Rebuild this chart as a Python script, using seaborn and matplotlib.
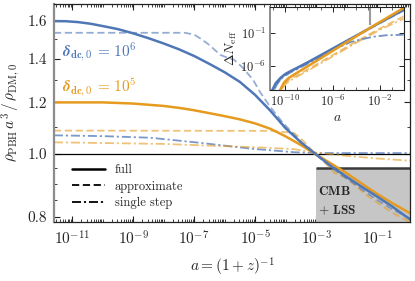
import numpy as np
import pandas as pd
import matplotlib
matplotlib.use("Agg")
import matplotlib.pyplot as plt
import matplotlib.ticker as mt
from matplotlib.lines import Line2D
import seaborn as sns

# ---------------- data ----------------
# main panel: log10(a) and rho_PBH a^3 / rho_DM,0
la_full6 = [-11.6, -11.2, -10.8, -10.4, -10.0, -9.5, -9.0, -8.5, -8.0, -7.5, -7.0, -6.5, -6.0, -5.5, -5.0, -4.5, -4.0, -3.5, -3.0, -2.5, -2.0, -1.5, -1.0, -0.5, 0.1]
v_full6 = [1.600, 1.599, 1.594, 1.585, 1.572, 1.555, 1.532, 1.506, 1.478, 1.448, 1.414, 1.375, 1.335, 1.290, 1.232, 1.165, 1.095, 1.042, 0.998, 0.957, 0.922, 0.890, 0.860, 0.830, 0.792]

la_full5 = [-11.6, -10.0, -9.0, -8.0, -7.5, -7.0, -6.5, -6.0, -5.5, -5.0, -4.5, -4.0, -3.5, -3.0, -2.5, -2.0, -1.5, -1.0, -0.5, 0.1]
v_full5 = [1.200, 1.200, 1.195, 1.185, 1.177, 1.167, 1.155, 1.143, 1.130, 1.114, 1.093, 1.064, 1.032, 0.998, 0.966, 0.934, 0.900, 0.868, 0.840, 0.810]

la_apx6 = [-11.6, -7.3, -7.0, -6.8, -6.5, -6.15, -5.9, -5.7, -5.4, -5.07, -4.84, -4.5, -4.1, -3.7, -3.3, -3.0, -2.6, -2.2, -1.8, -1.4, -1.0, -0.5, 0.1]
v_apx6 = [1.535, 1.535, 1.525, 1.505, 1.470, 1.420, 1.405, 1.396, 1.356, 1.300, 1.245, 1.180, 1.118, 1.068, 1.022, 0.998, 0.962, 0.930, 0.903, 0.875, 0.850, 0.822, 0.795]

la_apx5 = [-11.6, -4.5, -4.0, -3.7, -3.4, -3.2, -3.0, -2.6, -2.4, -2.0, -1.6, -1.4, -1.0, -0.5, 0.1]
v_apx5 = [1.086, 1.085, 1.080, 1.075, 1.045, 1.020, 0.998, 0.958, 0.935, 0.918, 0.885, 0.868, 0.842, 0.812, 0.785]

la_ss6 = [-11.6, -10.0, -8.44, -6.8, -5.16, -3.72, -3.0, -2.0, 0.1]
v_ss6 = [1.068, 1.065, 1.059, 1.040, 1.019, 1.006, 1.003, 1.003, 1.003]

la_ss5 = [-11.6, -8.0, -6.8, -5.0, -3.72, -3.0, -2.0, -1.0, 0.1]
v_ss5 = [1.042, 1.036, 1.031, 1.024, 1.017, 1.005, 0.993, 0.984, 0.976]

# inset: log10(a) and log10(Delta N_eff)
li_full6 = [-11.3, -11.1, -10.8, -10.4, -10.0, -9.6, -9.0, -8.0, -6.0, -4.0, -2.0, 0.0]
ln_full6 = [-12.0, -9.8, -8.7, -7.9, -7.3, -6.9, -6.35, -5.4, -3.4, -1.4, 0.6, 2.55]
li_full5 = [-10.6, -10.42, -10.1, -9.72, -9.0, -8.0, -6.0, -4.0, -2.0, 0.0]
ln_full5 = [-12.0, -9.72, -8.6, -7.92, -7.1, -6.0, -3.75, -1.5, 0.7, 2.85]
li_apx6 = [-11.2, -11.0, -10.6, -10.2, -9.6, -9.0, -8.0, -6.0, -4.0, -2.0, 0.0]
ln_apx6 = [-12.0, -9.9, -8.6, -7.7, -7.0, -6.45, -5.5, -3.5, -1.5, 0.5, 2.45]
li_apx5 = [-10.5, -10.3, -10.0, -9.6, -9.0, -8.0, -6.0, -4.0, -2.0, 0.0]
ln_apx5 = [-12.0, -9.6, -8.7, -8.1, -7.5, -6.5, -4.4, -2.3, -0.3, 1.55]
li_ss6 = [-11.2, -11.0, -10.6, -10.2, -9.6, -9.0, -8.0, -6.0, -4.5, -3.45, -2.5, -1.5, 0.0]
ln_ss6 = [-12.0, -9.9, -8.6, -7.8, -7.1, -6.55, -5.6, -3.65, -2.4, -1.92, -1.55, -1.35, -1.26]
li_ss5 = [-10.5, -10.3, -10.0, -9.6, -9.0, -8.0, -6.0, -4.0, -2.0, 0.0]
ln_ss5 = [-12.0, -9.7, -8.9, -8.3, -7.7, -6.7, -4.6, -2.5, -0.5, 1.2]

cmb_a = 1e-3
cmb_bound = 0.95

xticks_main = [1e-11, 1e-9, 1e-7, 1e-5, 1e-3, 1e-1]
yticks_main = [0.8, 1.0, 1.2, 1.4, 1.6]
yminor_main = [0.85, 0.9, 0.95, 1.1, 1.3, 1.5]
xticks_inset = [1e-10, 1e-6, 1e-2]
yticks_inset = [1e-6, 1e-1]

# ---------------- style ----------------
sns.set_theme(style="ticks")
plt.rcParams["font.family"] = ["cmr10", "DejaVu Serif"]
plt.rcParams["mathtext.fontset"] = "cm"
plt.rcParams["axes.formatter.use_mathtext"] = True
plt.rcParams["axes.unicode_minus"] = False

BLUE = "#4F77B6"
ORANGE = "#E69A1E"
DASH = (0, (4, 2))
DASHDOT = (0, (5, 1.6, 1.2, 1.6))

fig = plt.figure(figsize=(4.15, 2.81), dpi=100)
ax = fig.add_axes([0.130, 0.210, 0.858, 0.776])
ax.set_xscale("log")
ax.set_yscale("log")


def line(axis, lx, vals, color, ls, lw, alpha, logy=False):
    x = 10.0 ** np.array(lx)
    y = 10.0 ** np.array(vals) if logy else np.array(vals)
    df = pd.DataFrame({"a": x, "v": y})
    sns.lineplot(data=df, x="a", y="v", ax=axis, color=color, linestyle=ls,
                 lw=lw, alpha=alpha, legend=False, sort=False, estimator=None)


xmin, xmax = 10 ** -11.6, 10 ** 0.08
ymin, ymax = 0.786, 1.70

# CMB+LSS region
ax.fill_between([cmb_a, xmax], [ymin, ymin], [cmb_bound, cmb_bound], color="#c6c6c6", lw=0, zorder=1)
ax.plot([cmb_a, xmax], [cmb_bound, cmb_bound], color="#3a3a3a", lw=1.8, zorder=2, solid_capstyle="butt")
ax.axhline(1.0, color="black", lw=0.9, zorder=2)

line(ax, la_ss6, v_ss6, BLUE, DASHDOT, 1.3, 0.75)
line(ax, la_ss5, v_ss5, ORANGE, DASHDOT, 1.3, 0.6)
line(ax, la_apx5, v_apx5, ORANGE, DASH, 1.3, 0.6)
line(ax, la_apx6, v_apx6, BLUE, DASH, 1.3, 0.6)
line(ax, la_full5, v_full5, ORANGE, "-", 1.8, 1.0)
line(ax, la_full6, v_full6, BLUE, "-", 1.8, 1.0)

ax.set_xlim(xmin, xmax)
ax.set_ylim(ymin, ymax)
ax.xaxis.set_major_locator(mt.FixedLocator(xticks_main))
ax.xaxis.set_major_formatter(mt.LogFormatterSciNotation())
ax.xaxis.set_minor_locator(mt.LogLocator(base=10, subs=np.arange(1, 10) * 1.0, numticks=40))
ax.xaxis.set_minor_formatter(mt.NullFormatter())
ax.yaxis.set_major_locator(mt.FixedLocator(yticks_main))
ax.yaxis.set_major_formatter(mt.FuncFormatter(lambda v, p: f"{v:.1f}"))
ax.yaxis.set_minor_locator(mt.FixedLocator(yminor_main))
ax.yaxis.set_minor_formatter(mt.NullFormatter())
ax.tick_params(which="both", direction="in", top=True, right=True, labelsize=11, pad=5, color="#222")
ax.tick_params(which="major", length=4, width=0.8)
ax.tick_params(which="minor", length=2.2, width=0.6)
for s in ["top", "right", "bottom"]:
    ax.spines[s].set_color("#222")
    ax.spines[s].set_linewidth(0.9)
ax.spines["left"].set_color("#8c8c8c")
ax.spines["left"].set_linewidth(1.6)

ax.set_xlabel(r"$a = (1+z)^{-1}$", fontsize=11, labelpad=6)
ax.set_ylabel(r"$\rho_{\rm PBH}\, a^3\, /\, \rho_{\rm DM,0}$", fontsize=11, labelpad=4)

ax.text(0.022, 0.78, r"$\boldsymbol{\delta}_{\mathbf{dc,0}}\, \mathbf{=\, 10^6}$", color=BLUE,
        transform=ax.transAxes, fontsize=11, va="center", ha="left")
ax.text(0.022, 0.62, r"$\boldsymbol{\delta}_{\mathbf{dc,0}}\, \mathbf{=\, 10^5}$", color=ORANGE,
        transform=ax.transAxes, fontsize=11, va="center", ha="left")
ax.text(1.15e-3, 0.877, r"$\mathbf{CMB}$", fontsize=9.5, va="center", ha="left", zorder=3)
ax.text(1.15e-3, 0.818, r"$\mathbf{+\ LSS}$", fontsize=9.5, va="center", ha="left", zorder=3)

handles = [Line2D([], [], color="black", lw=1.8, ls="-"),
           Line2D([], [], color="black", lw=1.3, ls=DASH),
           Line2D([], [], color="black", lw=1.3, ls=DASHDOT)]
ax.legend(handles, ["full", "approximate", "single step"], loc="lower left",
          bbox_to_anchor=(0.03, 0.025), frameon=False, fontsize=9, handlelength=2.6,
          labelspacing=0.35, handletextpad=0.8, borderaxespad=0.2)

# ---------------- inset ----------------
ins = fig.add_axes([0.651, 0.680, 0.322, 0.295])
ins.set_xscale("log")
ins.set_yscale("log")
line(ins, li_ss5, ln_ss5, ORANGE, DASHDOT, 1.3, 0.6, logy=True)
line(ins, li_apx5, ln_apx5, ORANGE, DASH, 1.3, 0.6, logy=True)
line(ins, li_apx6, ln_apx6, BLUE, DASH, 1.3, 0.6, logy=True)
line(ins, li_ss6, ln_ss6, BLUE, DASHDOT, 1.3, 0.8, logy=True)
line(ins, li_full6, ln_full6, BLUE, "-", 1.8, 1.0, logy=True)
line(ins, li_full5, ln_full5, ORANGE, "-", 1.8, 1.0, logy=True)
ins.vlines(1.4e-3, 2.0, 1e3, color="#9a9a9a", lw=1.5, zorder=1)
ins.set_xlim(10 ** -11.27, 10 ** 0.02)
ins.set_ylim(10 ** -9.74, 10 ** 3.0)
ins.xaxis.set_major_locator(mt.FixedLocator(xticks_inset))
ins.xaxis.set_major_formatter(mt.LogFormatterSciNotation())
ins.xaxis.set_minor_locator(mt.LogLocator(base=10, subs=[1.0], numticks=40))
ins.xaxis.set_minor_formatter(mt.NullFormatter())
ins.yaxis.set_major_locator(mt.FixedLocator(yticks_inset))
ins.yaxis.set_major_formatter(mt.LogFormatterSciNotation())
ins.yaxis.set_minor_locator(mt.NullLocator())
ins.tick_params(which="both", direction="in", top=True, right=True, labelsize=9, pad=3, color="#222")
ins.tick_params(which="major", length=3.5, width=0.7)
ins.tick_params(which="minor", length=2, width=0.5)
for s in ["top", "right", "bottom"]:
    ins.spines[s].set_color("#222")
    ins.spines[s].set_linewidth(0.8)
ins.spines["left"].set_color("#8c8c8c")
ins.spines["left"].set_linewidth(1.4)
ins.set_xlabel(r"$a$", fontsize=10, labelpad=2)
ins.set_ylabel(r"$\Delta N_{\rm eff}$", fontsize=10, labelpad=1)

fig.savefig("out.png", dpi=100)
